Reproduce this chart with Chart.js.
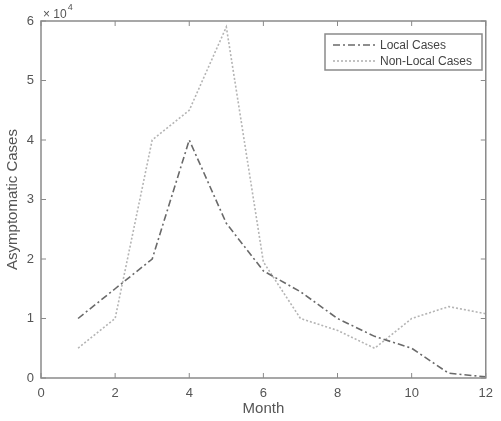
<!DOCTYPE html>
<html lang="en">
<head>
    <meta charset="UTF-8">
    <title>Asymptomatic Cases by Month</title>
    <script src="https://cdn.jsdelivr.net/npm/chart.js"></script>
    <style>
        body {
            margin: 0;
            background: #ffffff;
            font-family: "Liberation Sans", Arial, sans-serif;
        }

        #wrap {
            width: 501px;
            height: 421px;
        }
    </style>
</head>
<body>
    <div id="wrap">
        <canvas id="chart"></canvas>
    </div>

    <script>
        // Monthly asymptomatic case counts
        const months = [1, 2, 3, 4, 5, 6, 7, 8, 9, 10, 11, 12];
        const localCases = [10000, 15000, 20000, 40000, 26000, 18000, 14500, 10000, 7000, 5000, 800, 200];
        const nonLocalCases = [5000, 10000, 40000, 45000, 59000, 19500, 10000, 8000, 5000, 10000, 12000, 10800];
        const seriesLabels = ["Local Cases", "Non-Local Cases"];
        const xTicks = [0, 2, 4, 6, 8, 10, 12];
        const yTicks = [0, 10000, 20000, 30000, 40000, 50000, 60000];

        const axisColor = "#8a8a8a";
        const textColor = "#555555";

        function toPoints(values) {
            return months.map((m, i) => ({ x: m, y: values[i] }));
        }

        // Box frame, inward ticks on all four sides and the exponent label
        const framePlugin = {
            id: "frame",
            afterDraw(chart) {
                const { ctx, chartArea: a, scales } = chart;
                ctx.save();
                ctx.strokeStyle = axisColor;
                ctx.lineWidth = 1.5;
                ctx.strokeRect(a.left, a.top, a.right - a.left, a.bottom - a.top);

                ctx.lineWidth = 1;
                const len = 5;
                ctx.beginPath();
                xTicks.forEach(v => {
                    const px = scales.x.getPixelForValue(v);
                    ctx.moveTo(px, a.bottom);
                    ctx.lineTo(px, a.bottom - len);
                    ctx.moveTo(px, a.top);
                    ctx.lineTo(px, a.top + len);
                });
                yTicks.forEach(v => {
                    const py = scales.y.getPixelForValue(v);
                    ctx.moveTo(a.left, py);
                    ctx.lineTo(a.left + len, py);
                    ctx.moveTo(a.right, py);
                    ctx.lineTo(a.right - len, py);
                });
                ctx.stroke();

                // "x 10^4" multiplier above the y axis
                ctx.fillStyle = textColor;
                ctx.textBaseline = "alphabetic";
                ctx.textAlign = "left";
                ctx.font = "12px 'Liberation Sans', Arial, sans-serif";
                ctx.fillText("\u00d7 10", a.left + 2, a.top - 3);
                const w = ctx.measureText("\u00d7 10").width;
                ctx.font = "9px 'Liberation Sans', Arial, sans-serif";
                ctx.fillText("4", a.left + 3 + w, a.top - 11);
                ctx.restore();
            }
        };

        // Boxed legend in the upper right of the plot
        const legendPlugin = {
            id: "boxLegend",
            afterDraw(chart) {
                const { ctx } = chart;
                const box = { x: 325, y: 34, w: 157, h: 36 };
                ctx.save();
                ctx.fillStyle = "#ffffff";
                ctx.fillRect(box.x, box.y, box.w, box.h);
                ctx.strokeStyle = axisColor;
                ctx.lineWidth = 1.5;
                ctx.strokeRect(box.x, box.y, box.w, box.h);

                ctx.font = "12px 'Liberation Sans', Arial, sans-serif";
                ctx.textBaseline = "middle";
                ctx.textAlign = "left";
                chart.data.datasets.forEach((ds, i) => {
                    const y = box.y + 11 + i * 16;
                    ctx.strokeStyle = ds.borderColor;
                    ctx.lineWidth = ds.borderWidth;
                    ctx.setLineDash(ds.borderDash);
                    ctx.beginPath();
                    ctx.moveTo(box.x + 8, y);
                    ctx.lineTo(box.x + 50, y);
                    ctx.stroke();
                    ctx.setLineDash([]);
                    ctx.fillStyle = "#444444";
                    ctx.fillText(ds.label, box.x + 55, y + 1);
                });
                ctx.restore();
            }
        };

        new Chart(document.getElementById("chart"), {
            type: "line",
            data: {
                datasets: [
                    {
                        label: seriesLabels[0],
                        data: toPoints(localCases),
                        borderColor: "#6a6a6a",
                        borderWidth: 1.6,
                        borderDash: [7, 3, 2, 3],
                        pointRadius: 0,
                        tension: 0,
                        fill: false
                    },
                    {
                        label: seriesLabels[1],
                        data: toPoints(nonLocalCases),
                        borderColor: "#b4b4b4",
                        borderWidth: 1.6,
                        borderDash: [2, 2],
                        pointRadius: 0,
                        tension: 0,
                        fill: false
                    }
                ]
            },
            options: {
                responsive: true,
                maintainAspectRatio: false,
                animation: false,
                layout: {
                    padding: { top: 21, right: 9, left: 0, bottom: 0 }
                },
                plugins: {
                    legend: { display: false },
                    tooltip: { enabled: false }
                },
                scales: {
                    x: {
                        type: "linear",
                        min: 0,
                        max: 12,
                        afterFit: scale => { scale.height = 43; },
                        afterBuildTicks: scale => {
                            scale.ticks = xTicks.map(v => ({ value: v }));
                        },
                        grid: { display: false, drawTicks: false },
                        border: { display: false },
                        ticks: {
                            padding: 8,
                            color: textColor,
                            font: { size: 13, family: "'Liberation Sans', Arial, sans-serif" },
                            maxRotation: 0
                        },
                        title: {
                            display: true,
                            text: "Month",
                            color: textColor,
                            font: { size: 15, family: "'Liberation Sans', Arial, sans-serif" },
                            padding: { top: 0, bottom: 3 }
                        }
                    },
                    y: {
                        min: 0,
                        max: 60000,
                        afterFit: scale => { scale.width = 41; },
                        afterBuildTicks: scale => {
                            scale.ticks = yTicks.map(v => ({ value: v }));
                        },
                        grid: { display: false, drawTicks: false },
                        border: { display: false },
                        ticks: {
                            padding: 7,
                            color: textColor,
                            font: { size: 13, family: "'Liberation Sans', Arial, sans-serif" },
                            callback: v => v / 10000
                        },
                        title: {
                            display: true,
                            text: "Asymptomatic Cases",
                            color: textColor,
                            font: { size: 15, family: "'Liberation Sans', Arial, sans-serif" },
                            padding: { top: 4, bottom: 0 }
                        }
                    }
                }
            },
            plugins: [framePlugin, legendPlugin]
        });
    </script>
</body>
</html>
